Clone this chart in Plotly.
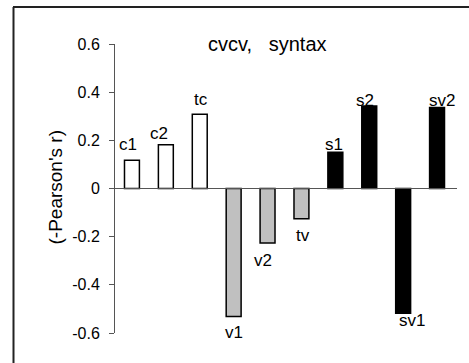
import plotly.graph_objects as go

categories = ["c1", "c2", "tc", "v1", "v2", "tv", "s1", "s2", "sv1", "sv2"]
values = [0.117, 0.182, 0.308, -0.532, -0.226, -0.126, 0.151, 0.343, -0.518, 0.336]
groups = ["c", "c", "c", "v", "v", "v", "s", "s", "s", "s"]
y_ticks = [-0.6, -0.4, -0.2, 0, 0.2, 0.4, 0.6]
y_tick_labels = ["-0.6", "-0.4", "-0.2", "0", "0.2", "0.4", "0.6"]

fill = {"c": "white", "v": "#c0c0c0", "s": "black"}
# label offsets in pixels (style)
label_dx = [-3.5, -7, 1.5, 0, -5, 2, -1.5, -4, 9, 5]
label_dy = [16, 11, 14.5, -16, -18, -17, 8, 5, -7, 7]

FONT = "Liberation Sans, Arial, sans-serif"
W, H = 469, 363
L, R, T, B = 115, 15, 44, 30
pw, ph = W - L - R, H - T - B

def px(x):
    return (x - L) / pw

def py(y):
    return (H - B - y) / ph

fig = go.Figure()
fig.add_trace(go.Bar(
    x=categories, y=values, width=0.44,
    marker=dict(color=[fill[g] for g in groups],
                line=dict(color="black", width=1.5)),
    showlegend=False,
))

for c, v, dx, dy in zip(categories, values, label_dx, label_dy):
    fig.add_annotation(x=c, y=v, xref="x", yref="y", text=c, showarrow=False,
                       xshift=dx, yshift=dy, yanchor="middle",
                       font=dict(family=FONT, size=17, color="black"))

fig.add_annotation(x=px(267), y=py(31), xref="paper", yref="paper",
                   text="cvcv,\u00a0\u00a0\u00a0syntax", showarrow=False,
                   font=dict(family=FONT, size=20, color="black"))
fig.add_annotation(x=px(42), y=py(188), xref="paper", yref="paper",
                   text="(-Pearson's r)", textangle=-90, showarrow=False,
                   font=dict(family=FONT, size=19, color="black"))

# zero line
fig.add_shape(type="line", xref="paper", yref="y", x0=0, x1=px(457), y0=0, y1=0,
              line=dict(color="#555555", width=1))
# frame
fig.add_shape(type="line", xref="paper", yref="paper", x0=px(13), x1=px(470),
              y0=py(7), y1=py(7), line=dict(color="#222222", width=2))
fig.add_shape(type="line", xref="paper", yref="paper", x0=px(13.5), x1=px(13.5),
              y0=py(7), y1=py(364), line=dict(color="#222222", width=2))

fig.update_xaxes(range=[-0.5, 9.5], showticklabels=False, ticks="", showline=False,
                 showgrid=False, zeroline=False)
fig.update_yaxes(range=[-0.6, 0.6], tickvals=y_ticks, ticktext=y_tick_labels,
                 ticks="outside", ticklen=5, tickcolor="#555555", showline=True,
                 linecolor="#555555", linewidth=1, showgrid=False, zeroline=False,
                 ticklabelstandoff=6,
                 tickfont=dict(family=FONT, size=16, color="black"))

fig.update_layout(width=W, height=H, margin=dict(l=L, r=R, t=T, b=B),
                  paper_bgcolor="white", plot_bgcolor="white")
fig.write_html("out.html", config={"displayModeBar": False},
               post_script="document.body.style.margin='0';")
